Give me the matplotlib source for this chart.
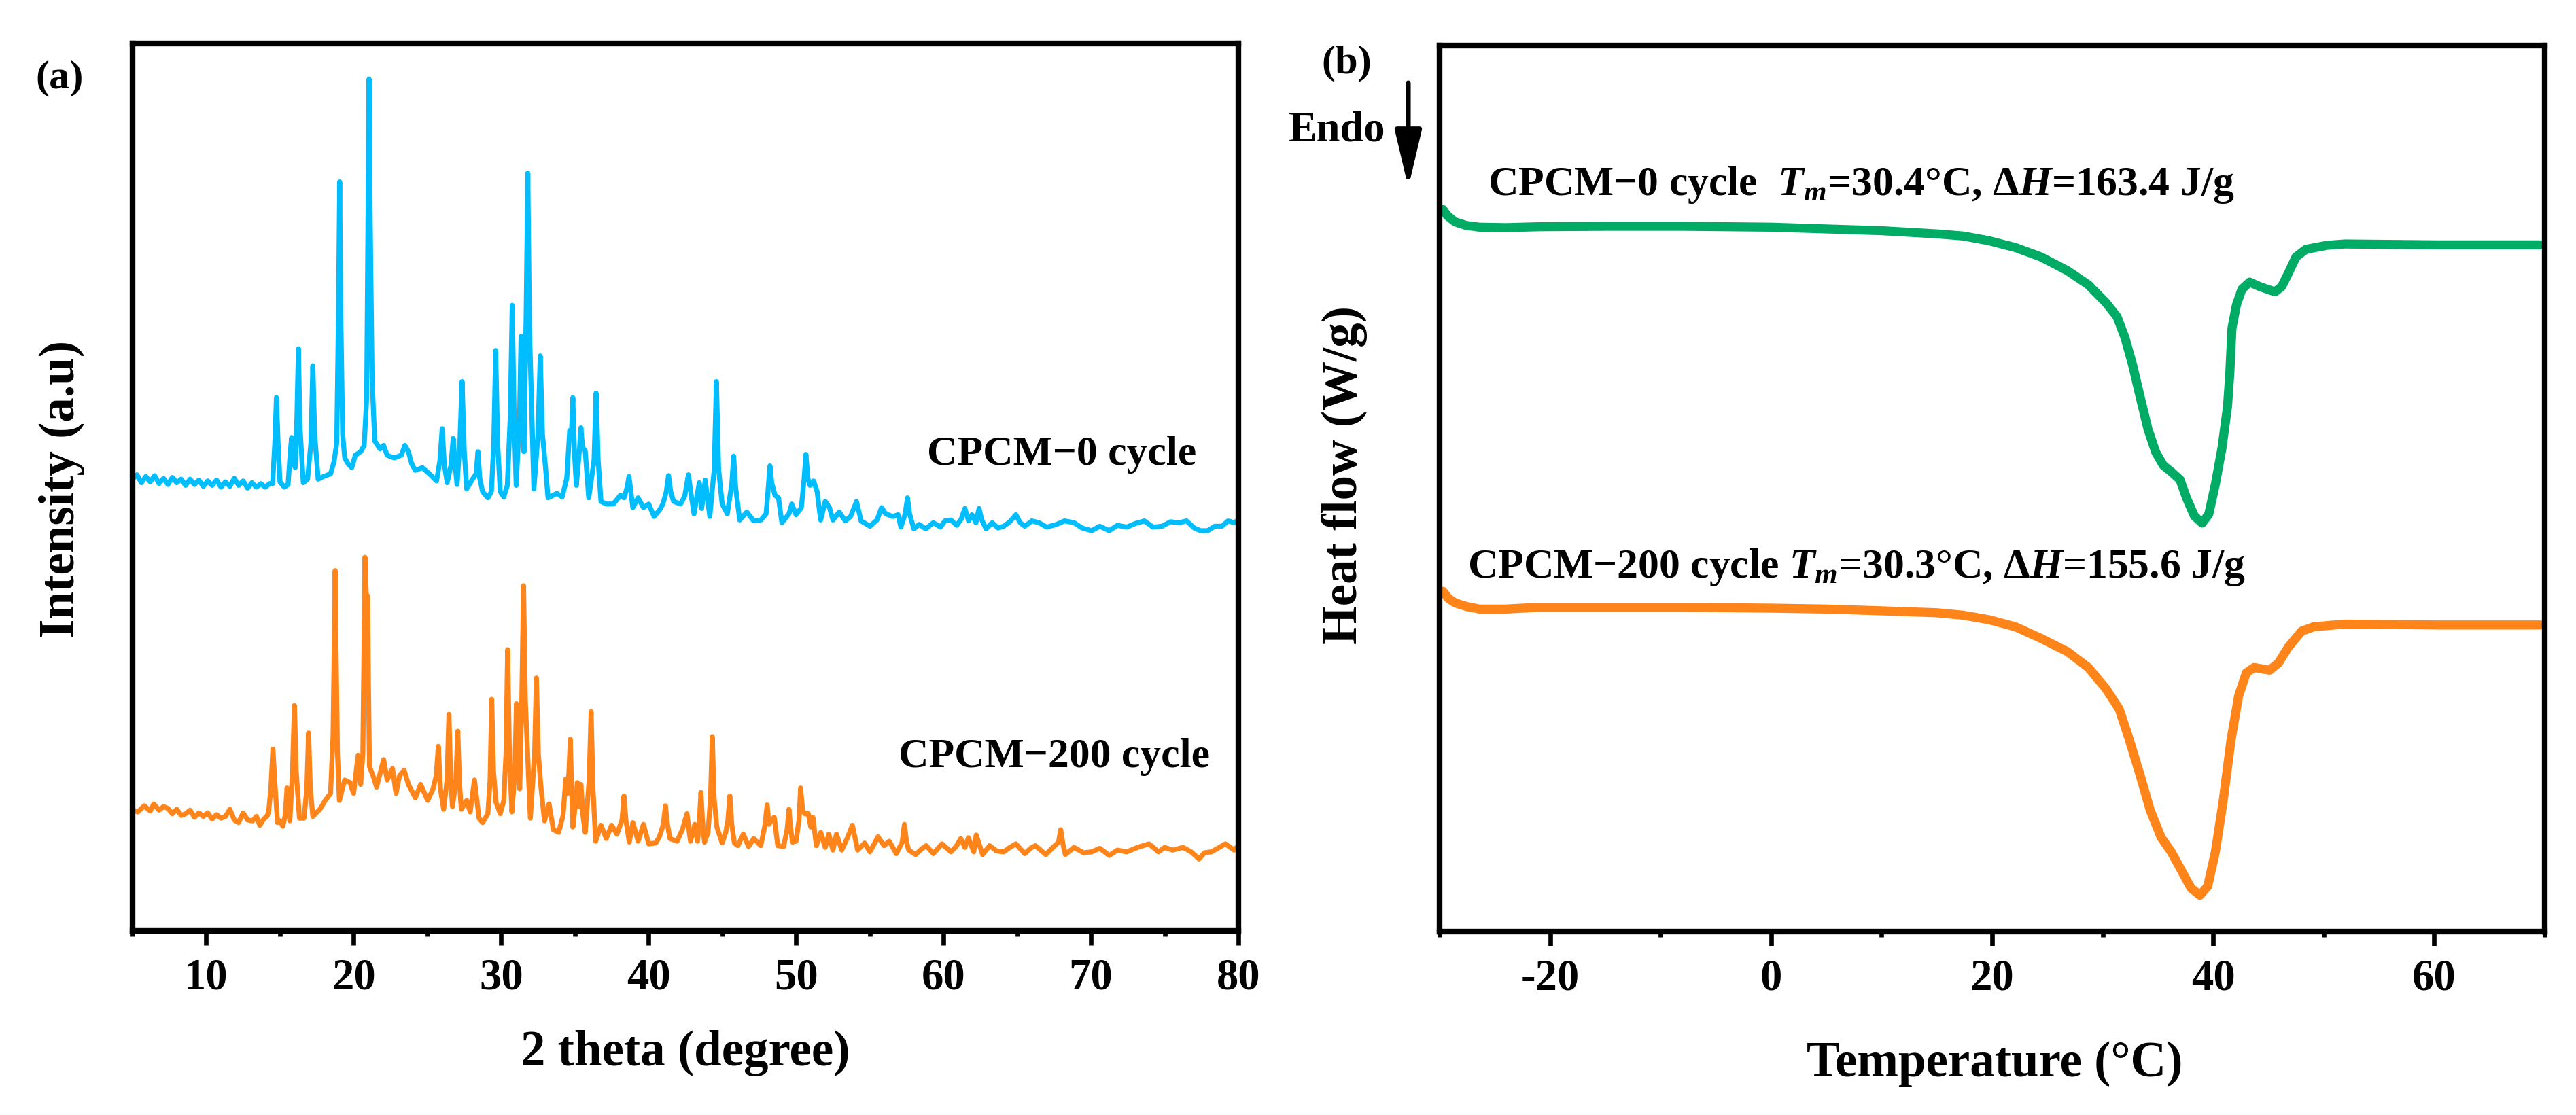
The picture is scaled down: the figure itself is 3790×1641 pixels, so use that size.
import numpy as np
import matplotlib
matplotlib.use("Agg")
import matplotlib.pyplot as plt
from matplotlib.ticker import MultipleLocator

# ---------------- data ----------------
# XRD, CPCM-0 cycle (2 theta in degree, intensity in a.u., offset curve)
xrd0_theta = [
    5.0, 5.3, 5.6, 5.9, 6.2, 6.5, 6.8, 7.1, 7.4, 7.7,
    8.0, 8.3, 8.6, 8.9, 9.2, 9.5, 9.8, 10.1, 10.4, 10.7,
    11.0, 11.3, 11.6, 11.9, 12.2, 12.5, 12.8, 13.1, 13.4, 13.7,
    14.0, 14.3, 14.5, 14.65, 14.76, 14.87, 15.0, 15.3, 15.55, 15.7,
    15.79, 15.9, 16.03, 16.15, 16.25, 16.35, 16.58, 16.87, 17.1, 17.23,
    17.35, 17.59, 17.95, 18.43, 18.67, 18.85, 18.97, 19.05, 19.12, 19.25,
    19.39, 19.63, 19.87, 20.11, 20.47, 20.71, 20.88, 20.97, 21.04, 21.12,
    21.25, 21.43, 21.79, 22.03, 22.27, 22.75, 23.23, 23.47, 23.71, 23.94,
    24.18, 24.66, 25.14, 25.62, 25.85, 26.0, 26.15, 26.34, 26.6, 26.75,
    26.88, 27.01, 27.2, 27.35, 27.5, 27.66, 28.02, 28.3, 28.43, 28.55,
    28.74, 29.1, 29.34, 29.5, 29.63, 29.76, 29.94, 30.18, 30.42, 30.62,
    30.75, 30.88, 31.02, 31.25, 31.35, 31.45, 31.55, 31.7, 31.81, 31.92,
    32.22, 32.5, 32.65, 32.8, 33.01, 33.18, 33.54, 33.78, 34.14, 34.45,
    34.65, 34.76, 34.86, 34.97, 35.1, 35.3, 35.41, 35.52, 35.7, 35.94,
    36.3, 36.44, 36.58, 36.77, 37.13, 37.61, 38.09, 38.33, 38.55, 38.67,
    38.8, 38.93, 39.29, 39.65, 40.01, 40.37, 40.73, 40.97, 41.2, 41.35,
    41.5, 41.69, 42.17, 42.45, 42.7, 42.9, 43.08, 43.44, 43.6, 43.84,
    44.15, 44.45, 44.6, 44.75, 44.99, 45.34, 45.65, 45.77, 45.9, 46.18,
    46.66, 47.13, 47.61, 47.97, 48.12, 48.23, 48.35, 48.57, 48.81, 49.04,
    49.52, 49.71, 50.0, 50.36, 50.55, 50.67, 50.8, 50.95, 51.19, 51.43,
    51.67, 51.98, 52.27, 52.5, 52.93, 53.34, 53.7, 54.1, 54.41, 55.01,
    55.49, 55.8, 56.08, 56.56, 56.92, 57.11, 57.4, 57.56, 57.7, 57.99,
    58.35, 58.8, 59.31, 59.8, 60.1, 60.5, 60.9, 61.2, 61.45, 61.7,
    61.93, 62.2, 62.41, 62.6, 62.89, 63.3, 63.7, 64.08, 64.5, 64.91,
    65.2, 65.51, 66.0, 66.47, 67.0, 67.66, 68.2, 68.85, 69.4, 70.05,
    70.6, 71.24, 71.8, 72.43, 73.0, 73.63, 74.2, 74.82, 75.4, 76.01,
    76.49, 77.0, 77.44, 77.92, 78.4, 78.88, 79.3, 79.71, 80.0,
]
xrd0_int = [
    50.9, 51.4, 50.5, 51.2, 50.6, 51.3, 50.4, 51.0, 50.3, 51.1,
    50.5, 50.9, 50.2, 50.9, 50.3, 50.8, 50.1, 50.7, 50.2, 50.8,
    50.0, 50.6, 50.1, 51.0, 50.2, 50.7, 49.9, 50.5, 50.0, 50.4,
    50.0, 50.4, 50.4, 55.0, 60.1, 55.0, 50.6, 50.0, 50.3, 54.0,
    55.6, 53.5, 52.2, 58.0, 65.6, 57.0, 50.5, 50.9, 55.0, 63.7,
    56.0, 50.9, 51.2, 51.5, 52.9, 55.0, 70.0, 84.4, 70.0, 56.0,
    53.3, 52.6, 52.2, 53.6, 54.0, 54.7, 60.0, 80.0, 96.0, 80.0,
    62.0, 55.2, 54.3, 54.7, 53.6, 53.3, 53.6, 54.7, 54.0, 52.6,
    51.9, 52.2, 51.5, 50.7, 53.0, 56.6, 52.5, 50.5, 52.5, 55.5,
    52.5, 50.3, 55.0, 61.9, 54.0, 49.8, 50.8, 51.5, 54.0, 51.0,
    49.5, 48.8, 49.5, 55.0, 65.4, 55.0, 49.5, 48.9, 50.2, 58.0,
    70.5, 58.0, 50.2, 58.0, 67.0, 58.0, 54.0, 70.0, 85.4, 68.0,
    49.8, 56.0, 64.8, 56.0, 52.2, 48.8, 49.1, 49.3, 48.9, 51.0,
    56.4, 55.5, 60.1, 54.0, 50.2, 54.0, 56.7, 54.5, 54.1, 48.8,
    53.0, 60.6, 53.0, 48.4, 48.1, 48.1, 49.1, 48.8, 50.0, 51.2,
    49.5, 47.7, 48.8, 47.7, 48.1, 46.7, 47.4, 48.1, 49.5, 51.3,
    49.5, 48.4, 48.1, 49.0, 51.4, 49.0, 47.0, 50.5, 47.6, 50.8,
    46.7, 52.0, 61.9, 52.0, 48.1, 47.0, 50.5, 53.5, 50.0, 46.3,
    47.2, 46.2, 46.3, 47.0, 50.0, 52.4, 50.5, 49.1, 48.8, 46.0,
    47.0, 48.1, 46.9, 47.7, 51.0, 53.7, 51.0, 50.2, 50.7, 49.5,
    46.3, 48.4, 47.7, 46.3, 47.2, 46.2, 46.7, 48.4, 46.2, 45.6,
    46.3, 47.7, 47.0, 46.7, 46.9, 45.5, 47.0, 48.8, 47.0, 45.3,
    45.8, 45.3, 46.0, 45.5, 46.2, 46.3, 45.7, 46.4, 47.6, 46.2,
    46.9, 46.0, 47.6, 46.3, 45.3, 46.0, 45.4, 45.6, 46.1, 46.9,
    46.0, 45.6, 46.2, 46.0, 45.5, 45.8, 46.2, 46.0, 45.4, 45.1,
    45.6, 45.1, 45.7, 45.5, 45.9, 46.2, 45.5, 45.6, 46.1, 46.0,
    46.2, 45.4, 45.1, 45.1, 45.6, 45.6, 46.2, 46.0, 46.3,
]

# XRD, CPCM-200 cycle
xrd200_theta = [
    5.0, 5.36, 5.8, 6.2, 6.44, 6.8, 7.1, 7.4, 7.7, 8.0,
    8.3, 8.6, 8.9, 9.2, 9.5, 9.8, 10.1, 10.4, 10.7, 11.0,
    11.3, 11.6, 11.9, 12.19, 12.5, 12.8, 13.15, 13.4, 13.63, 13.9,
    14.11, 14.23, 14.38, 14.52, 14.66, 14.83, 15.0, 15.19, 15.35, 15.48,
    15.6, 15.67, 15.85, 15.98, 16.1, 16.32, 16.63, 16.82, 16.94, 17.06,
    17.23, 17.71, 18.07, 18.43, 18.6, 18.68, 18.74, 18.8, 18.9, 19.03,
    19.39, 19.75, 19.99, 20.3, 20.47, 20.62, 20.7, 20.76, 20.85, 20.95,
    21.0, 21.07, 21.31, 21.55, 22.03, 22.27, 22.63, 22.87, 23.11, 23.42,
    23.71, 24.18, 24.54, 25.02, 25.38, 25.6, 25.74, 25.88, 26.1, 26.33,
    26.46, 26.58, 26.7, 26.93, 27.06, 27.18, 27.3, 27.66, 27.9, 28.19,
    28.5, 28.74, 29.1, 29.25, 29.36, 29.48, 29.65, 29.94, 30.18, 30.33,
    30.44, 30.56, 30.73, 30.93, 31.04, 31.15, 31.26, 31.4, 31.52, 31.64,
    31.98, 32.27, 32.39, 32.52, 32.7, 32.94, 33.25, 33.54, 33.9, 34.2,
    34.38, 34.5, 34.6, 34.69, 34.78, 34.86, 35.05, 35.17, 35.3, 35.41,
    35.55, 35.7, 35.97, 36.1, 36.23, 36.41, 36.77, 37.13, 37.49, 37.85,
    38.2, 38.33, 38.46, 38.69, 38.93, 39.29, 39.65, 40.01, 40.49, 40.73,
    41.0, 41.14, 41.28, 41.45, 41.93, 42.29, 42.6, 42.84, 43.13, 43.32,
    43.45, 43.55, 43.65, 43.79, 44.03, 44.2, 44.32, 44.44, 44.63, 44.99,
    45.23, 45.38, 45.51, 45.64, 45.82, 46.06, 46.42, 46.78, 47.13, 47.61,
    47.9, 48.04, 48.16, 48.28, 48.52, 48.76, 49.16, 49.4, 49.52, 49.64,
    49.76, 50.0, 50.2, 50.31, 50.45, 50.6, 50.83, 51.0, 51.14, 51.38,
    51.67, 51.98, 52.22, 52.5, 52.74, 53.1, 53.46, 53.82, 54.18, 54.65,
    55.01, 55.56, 55.97, 56.32, 56.8, 57.2, 57.35, 57.5, 57.64, 58.11,
    58.5, 58.83, 59.31, 59.9, 60.5, 60.85, 61.17, 61.45, 61.69, 62.05,
    62.22, 62.65, 63.13, 63.6, 64.08, 64.5, 64.91, 65.51, 65.9, 66.23,
    66.94, 67.42, 67.8, 67.95, 68.1, 68.26, 68.85, 69.5, 70.05, 70.6,
    71.24, 71.8, 72.43, 73.15, 73.94, 74.58, 75.0, 75.54, 76.25, 76.8,
    77.33, 77.7, 78.16, 78.6, 79.12, 79.71, 80.0,
]
xrd200_int = [
    13.6, 13.4, 14.1, 13.5, 14.3, 13.6, 14.0, 13.8, 13.2, 13.7,
    13.0, 13.2, 13.6, 12.8, 13.3, 12.9, 13.3, 12.6, 13.1, 12.7,
    12.9, 13.7, 12.5, 12.2, 13.3, 12.5, 12.4, 12.9, 11.9, 12.6,
    12.9, 13.4, 16.0, 20.5, 16.5, 12.2, 12.4, 11.8, 13.0, 16.1,
    13.5, 12.4, 18.0, 25.4, 18.0, 12.7, 12.7, 16.0, 22.3, 16.0,
    12.9, 13.7, 14.7, 15.5, 22.0, 32.0, 40.6, 32.0, 20.0, 14.7,
    17.0, 16.7, 15.5, 19.8, 16.5, 20.0, 32.0, 42.1, 38.0, 37.7,
    28.0, 18.5, 17.5, 16.2, 19.3, 17.0, 18.3, 15.5, 17.5, 18.1,
    16.5, 15.0, 16.5, 14.7, 16.0, 17.5, 20.8, 16.0, 13.7, 17.0,
    24.4, 17.0, 14.0, 17.0, 22.5, 16.5, 13.7, 14.7, 13.4, 17.0,
    12.7, 12.2, 13.2, 17.0, 26.1, 18.0, 14.5, 13.2, 14.7, 20.0,
    31.7, 20.0, 13.4, 18.0, 25.6, 19.0, 16.0, 26.0, 38.9, 26.0,
    12.7, 20.0, 28.5, 20.0, 16.2, 12.4, 14.3, 11.4, 11.1, 13.0,
    17.1, 15.5, 18.0, 21.6, 16.0, 11.7, 14.5, 16.7, 14.0, 16.5,
    13.0, 11.1, 17.0, 24.7, 16.0, 10.1, 11.9, 10.4, 11.9, 10.9,
    12.5, 15.2, 12.5, 10.0, 12.2, 10.1, 12.0, 9.8, 9.9, 10.6,
    12.0, 14.1, 12.0, 10.4, 10.1, 11.4, 13.2, 10.1, 12.0, 10.1,
    12.5, 15.6, 12.5, 10.0, 11.1, 15.0, 21.9, 15.0, 11.7, 9.9,
    11.1, 12.5, 15.2, 12.0, 9.9, 9.6, 10.9, 9.5, 10.4, 9.6,
    12.0, 14.2, 12.0, 12.4, 12.8, 9.6, 9.5, 11.5, 13.7, 11.5,
    10.0, 10.1, 12.5, 16.1, 13.5, 13.2, 13.2, 11.7, 12.8, 9.6,
    11.1, 9.4, 10.9, 9.1, 10.9, 9.1, 10.4, 11.9, 9.1, 9.9,
    8.9, 10.6, 9.6, 10.1, 8.7, 10.0, 12.0, 10.0, 9.1, 8.6,
    9.2, 9.6, 8.7, 9.8, 8.9, 9.5, 10.4, 9.4, 10.5, 8.9,
    10.8, 8.6, 9.6, 9.0, 8.9, 9.4, 9.8, 8.7, 9.3, 9.6,
    8.6, 9.4, 10.0, 11.4, 9.8, 8.6, 9.4, 8.8, 8.9, 9.3,
    8.5, 9.1, 8.9, 9.4, 9.8, 8.9, 9.4, 9.1, 9.4, 8.9,
    8.1, 8.8, 8.9, 9.3, 9.8, 9.1, 9.6,
]

# DSC, CPCM-0 cycle (temperature in degC, heat flow in arbitrary offset units)
dsc0_T = [-29.7, -29.3, -28.6, -27.6, -26.4, -24, -21, -15, -8, 0,
          5, 10, 15.0, 17.4, 19.7, 22.1, 24.4, 26.8, 28.7, 30.3,
          31.3, 32.0, 32.7, 33.4, 34.1, 34.8, 35.5, 36.2, 37.0, 37.6,
          38.3, 39.0, 39.6, 40.2, 40.8, 41.3, 41.5, 41.7, 42.1, 42.6,
          43.3, 44.2, 45.6, 46.2, 46.8, 47.5, 48.4, 50.3, 51.9, 60.4,
          69.6]
dsc0_hf = [81.5, 80.8, 80.1, 79.7, 79.5, 79.45, 79.55, 79.6, 79.6, 79.5,
           79.3, 79.1, 78.74, 78.5, 77.97, 77.2, 76.15, 74.6, 73.0, 70.97,
           69.4, 67.1, 64.0, 60.3, 56.7, 54.1, 52.6, 51.9, 51.0, 48.9,
           46.9, 46.1, 47.1, 50.5, 54.6, 59.3, 62.9, 68.1, 70.7, 72.5,
           73.3, 72.8, 72.2, 72.8, 74.3, 76.15, 77.0, 77.45, 77.6, 77.5,
           77.5]

# DSC, CPCM-200 cycle
dsc200_T = [-29.7, -29.2, -28.6, -27.6, -26.4, -24, -21, -15, -8, 0,
            5, 10, 15.0, 17.4, 19.7, 22.1, 24.4, 26.8, 28.7, 30.3,
            31.5, 32.4, 33.4, 34.3, 35.3, 36.2, 37.1, 38.0, 38.8, 39.5,
            40.2, 40.9, 41.6, 42.3, 43.0, 43.7, 45.1, 45.9, 46.8, 48.0,
            49.1, 51.9, 60.4, 69.6]
dsc200_hf = [38.4, 37.6, 37.1, 36.7, 36.4, 36.4, 36.6, 36.6, 36.6, 36.5,
             36.4, 36.2, 35.98, 35.7, 35.2, 34.4, 33.1, 31.6, 29.8, 27.4,
             25.1, 21.7, 17.6, 13.7, 10.6, 9.0, 6.95, 4.9, 4.1, 5.1,
             9.0, 14.7, 21.5, 26.6, 29.2, 29.8, 29.5, 30.3, 32.1, 33.9,
             34.4, 34.7, 34.6, 34.6]

xrd_labels = ["CPCM\u22120 cycle", "CPCM\u2212200 cycle"]
dsc_labels = ["CPCM\u22120 cycle  $T_m$=30.4\u00b0C, \u0394$H$=163.4 J/g",
              "CPCM\u2212200 cycle $T_m$=30.3\u00b0C, \u0394$H$=155.6 J/g"]

# ---------------- style ----------------
plt.rcParams["font.family"] = ["Liberation Serif", "DejaVu Serif"]
plt.rcParams["font.weight"] = "bold"
plt.rcParams["mathtext.fontset"] = "custom"
plt.rcParams["mathtext.it"] = "Liberation Serif:italic:bold"
plt.rcParams["mathtext.rm"] = "Liberation Serif:bold"
plt.rcParams["mathtext.bf"] = "Liberation Serif:bold"
plt.rcParams["axes.unicode_minus"] = False

C_BLUE = "#00BDFF"
C_ORANGE = "#FF8419"
C_GREEN = "#00AB66"

W, H, DPI = 3790, 1641, 300
fig = plt.figure(figsize=(W / DPI, H / DPI), dpi=DPI)


def fx(px):
    return px / W


def fy(py):
    return 1 - py / H


def add_axes_px(l, t, r, b):
    return fig.add_axes([fx(l), fy(b), (r - l) / W, (b - t) / H])


ax1 = add_axes_px(195, 64, 1822, 1370)
ax2 = add_axes_px(2118, 67, 3744, 1371)

for ax in (ax1, ax2):
    for s in ax.spines.values():
        s.set_linewidth(2.0)
    ax.tick_params(axis="x", which="major", direction="out", length=5,
                   width=1.6, labelsize=15.5, pad=4.5)
    ax.tick_params(axis="x", which="minor", direction="out", length=2,
                   width=1.6)
    ax.tick_params(axis="y", which="both", left=False, labelleft=False)
    ax.set_ylim(0, 100)

# (a) XRD
ax1.plot(xrd0_theta, xrd0_int, color=C_BLUE, lw=1.75, solid_joinstyle="round")
ax1.plot(xrd200_theta, xrd200_int, color=C_ORANGE, lw=1.75, solid_joinstyle="round")
ax1.set_xlim(5, 80)
ax1.xaxis.set_major_locator(MultipleLocator(10))
ax1.xaxis.set_minor_locator(MultipleLocator(5))

# (b) DSC
ax2.plot(dsc0_T, dsc0_hf, color=C_GREEN, lw=3.2, solid_joinstyle="round",
         solid_capstyle="round")
ax2.plot(dsc200_T, dsc200_hf, color=C_ORANGE, lw=3.2, solid_joinstyle="round",
         solid_capstyle="round")
ax2.set_xlim(-30, 70)
ax2.xaxis.set_major_locator(MultipleLocator(20))
ax2.xaxis.set_minor_locator(MultipleLocator(10))

# texts
AFS = 14.8
fig.text(fx(1364), fy(684), xrd_labels[0], ha="left", va="baseline", fontsize=AFS)
fig.text(fx(1322), fy(1129), xrd_labels[1], ha="left", va="baseline", fontsize=AFS)
fig.text(fx(2189), fy(287), dsc_labels[0], ha="left", va="baseline", fontsize=AFS)
fig.text(fx(2159), fy(850), dsc_labels[1], ha="left", va="baseline", fontsize=AFS)

fig.text(fx(1008), fy(1568), "2 theta (degree)", ha="center", va="baseline", fontsize=17.5)
fig.text(fx(2935), fy(1584), "Temperature (\u00b0C)", ha="center", va="baseline", fontsize=17.5)
fig.text(fx(91), fy(720), "Intensity (a.u)", rotation=90, ha="center", va="center",
         fontsize=17.5)
fig.text(fx(1978), fy(699), "Heat flow (W/g)", rotation=90, ha="center", va="center",
         fontsize=17.5)

fig.text(fx(88), fy(129), "(a)", ha="center", va="baseline", fontsize=14.5)
fig.text(fx(1981), fy(107), "(b)", ha="center", va="baseline", fontsize=14.5)
fig.text(fx(2038), fy(208), "Endo", ha="right", va="baseline", fontsize=15)

fig.add_artist(matplotlib.patches.FancyArrowPatch(
    (fx(2072), fy(122)), (fx(2072), fy(276)), transform=fig.transFigure,
    arrowstyle="-|>,head_length=0.85,head_width=0.2", mutation_scale=20,
    lw=1.7, color="black", shrinkA=0, shrinkB=0))

fig.savefig("out.png", dpi=DPI)
